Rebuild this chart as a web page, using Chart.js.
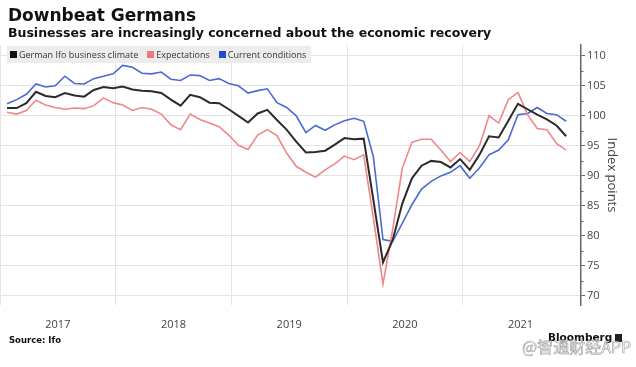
<!DOCTYPE html>
<html>
<head>
<meta charset="utf-8">
<script src="https://cdn.jsdelivr.net/npm/chart.js@4.4.1/dist/chart.umd.min.js"></script>
<style>
  html, body { margin: 0; padding: 0; background: #fff; }
  #wrap { position: relative; width: 636px; height: 367px; overflow: hidden; }
  #chart { position: absolute; left: 0; top: 0; }
  .title { position: absolute; left: 8px; top: 7px; font: bold 17px "DejaVu Sans"; line-height: 1; color: #111; white-space: nowrap; }
  .subtitle { position: absolute; left: 8px; top: 27px; font: bold 12.5px "DejaVu Sans"; line-height: 1; color: #111; white-space: nowrap; }
  .legend { position: absolute; left: 7px; top: 46px; width: 304px; height: 17px; background: #ececec;
            font: 9px "Open Sans"; color: #333; display: flex; align-items: center; white-space: nowrap; }
  .legend span { display: inline-flex; align-items: center; margin-left: 3px; margin-right: 6px; }
  .legend i { display: inline-block; width: 7px; height: 7px; margin-right: 2px; }
  .source { position: absolute; left: 9px; top: 335px; font: bold 8.5px "DejaVu Sans"; color: #111; }
  .brand { position: absolute; left: 548px; top: 331px; font: bold 10.5px "DejaVu Sans"; color: #111; }
  .brand b { display: inline-block; width: 7px; height: 8px; background: #222; margin-left: 3px; vertical-align: -1px; }
  .mark { position: absolute; left: 522px; top: 334px; font: 16px "Noto Sans CJK SC"; color: rgba(255,255,255,0.55);
          -webkit-text-stroke: 0.6px #9a9a9a; white-space: nowrap; }
</style>
</head>
<body>
<div id="wrap">
  <canvas id="chart" width="636" height="367"></canvas>
  <div class="title">Downbeat Germans</div>
  <div class="subtitle">Businesses are increasingly concerned about the economic recovery</div>
  <div class="legend">
    <span><i style="background:#111"></i>German Ifo business climate</span>
    <span><i style="background:#f07a7a"></i>Expectations</span>
    <span><i style="background:#1f4fc8"></i>Current conditions</span>
  </div>
  <div class="source">Source: Ifo</div>
  <div class="brand">Bloomberg<b></b></div>
  <div class="mark">@智通财经APP</div>
</div>
<script>
(function () {
  'use strict';

  // monthly, Jan 2017 .. Nov 2021
  const years = ['2017', '2018', '2019', '2020', '2021'];
  const climate = [
    101.3, 101.3, 102.1, 104.0, 103.3, 103.1, 103.8, 103.4, 103.2, 104.3, 104.8, 104.6,
    104.9, 104.4, 104.2, 104.1, 103.8, 102.7, 101.7, 103.5, 103.1, 102.2, 102.1, 101.1,
    100.0, 98.9, 100.4, 101.0, 99.3, 97.7, 95.7, 93.9, 94.0, 94.2, 95.2, 96.3,
    96.1, 96.2, 86.0, 75.6, 79.3, 85.4, 89.6, 91.7, 92.5, 92.3, 91.4, 92.8,
    91.0, 93.5, 96.6, 96.4, 99.2, 102.0, 101.1, 100.2, 99.4, 98.4, 96.6
  ];
  const expectations = [
    100.6, 100.3, 100.9, 102.6, 101.8, 101.4, 101.1, 101.3, 101.2, 101.7, 103.0, 102.2,
    101.8, 100.9, 101.4, 101.1, 100.3, 98.5, 97.7, 100.3, 99.4, 98.8, 98.2, 96.8,
    95.1, 94.4, 96.8, 97.7, 96.7, 93.8, 91.6, 90.6, 89.8, 91.0, 92.0, 93.3,
    92.7, 93.5, 83.0, 72.0, 81.0, 91.3, 95.6, 96.1, 96.1, 94.3, 92.4, 93.9,
    92.4, 95.0, 100.0, 98.8, 102.7, 103.9, 100.2, 97.9, 97.7, 95.4, 94.3
  ];
  const current = [
    102.0, 102.7, 103.6, 105.3, 104.8, 105.0, 106.6, 105.4, 105.3, 106.2, 106.6, 107.0,
    108.4, 108.1, 107.1, 107.0, 107.3, 106.1, 105.9, 106.8, 106.7, 105.9, 106.2, 105.4,
    105.0, 103.8, 104.2, 104.5, 102.2, 101.4, 100.0, 97.2, 98.4, 97.6, 98.5, 99.2,
    99.6, 99.1, 93.2, 79.4, 79.1, 82.1, 85.2, 87.8, 89.1, 90.0, 90.6, 91.7,
    89.6, 91.3, 93.5, 94.3, 96.0, 100.2, 100.4, 101.4, 100.4, 100.2, 99.1
  ];
  const yTicks = [70, 75, 80, 85, 90, 95, 100, 105, 110];

  function toPoints(arr) {
    return arr.map(function (v, i) { return { x: i + 0.73, y: v }; });
  }

  const minorTicks = {
    id: 'minorTicks',
    afterDraw: function (chart) {
      const y = chart.scales.y;
      const ctx = chart.ctx;
      ctx.save();
      ctx.strokeStyle = '#666';
      ctx.lineWidth = 1;
      for (let i = 0; i < yTicks.length - 1; i++) {
        const py = Math.round(y.getPixelForValue((yTicks[i] + yTicks[i + 1]) / 2)) + 0.5;
        ctx.beginPath();
        ctx.moveTo(y.left, py);
        ctx.lineTo(y.left + 2.5, py);
        ctx.stroke();
      }
      ctx.restore();
    }
  };

  function line(label, data, color, width) {
    return {
      label: label,
      data: toPoints(data),
      borderColor: color,
      borderWidth: width,
      pointRadius: 0,
      tension: 0,
      fill: false
    };
  }

  new Chart(document.getElementById('chart'), {
    type: 'line',
    data: {
      datasets: [
        line('German Ifo business climate', climate, '#2b2b2b', 2),
        line('Expectations', expectations, '#f08686', 1.6),
        line('Current conditions', current, '#4a6ad2', 1.6)
      ]
    },
    options: {
      responsive: false,
      animation: false,
      layout: { padding: { top: 45, bottom: 36, left: 0, right: 0 } },
      plugins: { legend: { display: false }, tooltip: { enabled: false } },
      scales: {
        x: {
          type: 'linear',
          min: 0,
          max: 60.27,
          afterBuildTicks: function (scale) {
            const t = [];
            for (let m = 0; m < 60; m += 6) t.push({ value: m });
            scale.ticks = t;
          },
          afterFit: function (scale) {
            scale.height = 26;
            scale.paddingLeft = 0;
            scale.paddingRight = 0;
          },
          border: { display: false },
          grid: {
            drawTicks: false,
            color: function (c) { return c.tick && c.tick.value % 12 === 0 ? '#e4e4e4' : 'rgba(0,0,0,0)'; }
          },
          ticks: {
            padding: 13,
            maxRotation: 0,
            autoSkip: false,
            color: '#444',
            font: { family: 'Open Sans', size: 11 },
            callback: function (v) { return v % 12 === 6 ? years[Math.floor(v / 12)] : ''; }
          }
        },
        y: {
          position: 'right',
          min: 68.5,
          max: 111.8,
          afterBuildTicks: function (scale) {
            scale.ticks = yTicks.map(function (v) { return { value: v }; });
          },
          afterFit: function (scale) {
            scale.width = 55;
            scale.paddingTop = 0;
            scale.paddingBottom = 0;
          },
          border: { display: true, color: '#666', width: 1.5 },
          grid: { color: '#e4e4e4', tickColor: '#666', tickLength: 4 },
          ticks: {
            padding: 2,
            color: '#444',
            font: { family: 'Open Sans', size: 11 }
          },
          title: {
            display: true,
            text: 'Index points',
            color: '#444',
            padding: { top: 16, bottom: 0 },
            font: { family: 'Open Sans', size: 13 }
          }
        }
      }
    },
    plugins: [minorTicks]
  });
})();
</script>
</body>
</html>
